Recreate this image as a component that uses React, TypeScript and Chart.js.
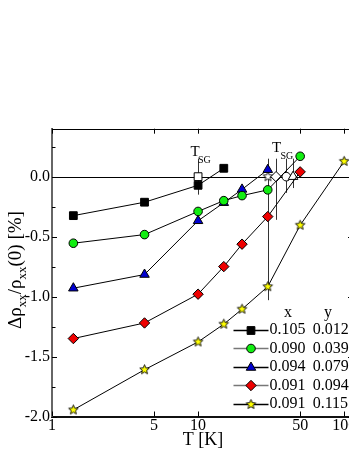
import React, { useEffect, useRef } from 'react';
import { Chart, registerables } from 'chart.js';

Chart.register(...registerables);

const SERIF = '"Liberation Serif", "DejaVu Serif", "Times New Roman", serif';

// ---- data ----
const T_A = [1.4, 4.3, 10, 15];
const RHO_A = [-0.325, -0.213, -0.072, 0.07];
const T_B = [1.4, 4.3, 10, 15, 20, 30, 50];
const RHO_B = [-0.555, -0.483, -0.29, -0.2, -0.158, -0.11, 0.17];
const T_C = [1.4, 4.3, 10, 15, 20, 30];
const RHO_C = [-0.93, -0.816, -0.368, -0.217, -0.106, 0.058];
const T_D = [1.4, 4.3, 10, 15, 20, 30, 50];
const RHO_D = [-1.35, -1.22, -0.98, -0.75, -0.563, -0.333, 0.04];
const T_E = [1.4, 4.3, 10, 15, 20, 30, 50, 100];
const RHO_E = [-1.945, -1.61, -1.378, -1.23, -1.105, -0.917, -0.405, 0.128];

// spin-glass temperatures (open symbols) with error bars
const TSG_T = [10, 30.1, 34.2, 40.2, 44.7];
const TSG_Y = [0, 0, 0, 0, 0];
const TSG_HIGH = [0.15, 0.15, 0.15, 0.15, 0.15];
const TSG_LOW = [-0.15, -1.03, -0.36, -0.135, -0.095];

// legend table
const LEG_X = ['0.105', '0.090', '0.094', '0.091', '0.091'];
const LEG_Y = ['0.012', '0.039', '0.079', '0.094', '0.115'];

// ticks
const X_TICKS = [1, 5, 10, 50, 100];
const Y_TICKS = [-2.0, -1.5, -1.0, -0.5, 0.0];
const Y_MINOR = [0.25, -0.25, -0.75, -1.25, -1.75];

const COLORS = ['#000000', '#11ee11', '#0000d0', '#ee0000', '#ffff00'];
const STYLES = ['rect', 'circle', 'triangle', 'rectRot', 'star'];
const RADII = [5.5, 4.3, 5.5, 5.2, 0];
const LEG_LINE = ['#000000', '#777777', '#000000', '#777777', '#000000'];

function makeStar(fill: string, r: number) {
  const c = document.createElement('canvas');
  const s = Math.ceil(r * 2 + 3);
  c.width = s;
  c.height = s;
  const ctx = c.getContext('2d')!;
  ctx.beginPath();
  for (let i = 0; i < 10; i++) {
    const ang = -Math.PI / 2 + (i * Math.PI) / 5;
    const rr = i % 2 === 0 ? r : r * 0.45;
    ctx.lineTo(s / 2 + rr * Math.cos(ang), s / 2 + rr * Math.sin(ang));
  }
  ctx.closePath();
  ctx.fillStyle = fill;
  ctx.fill();
  ctx.strokeStyle = '#000';
  ctx.lineWidth = 0.9;
  ctx.stroke();
  return c;
}

function drawMark(ctx: CanvasRenderingContext2D, kind: string, x: number, y: number, r: number, fill: string, star?: HTMLCanvasElement) {
  ctx.save();
  if (kind === 'star' && star) {
    ctx.drawImage(star, x - star.width / 2, y - star.height / 2);
    ctx.restore();
    return;
  }
  ctx.fillStyle = fill;
  ctx.strokeStyle = '#000';
  ctx.lineWidth = 1;
  ctx.beginPath();
  if (kind === 'rect') {
    const s = r * Math.SQRT1_2;
    ctx.rect(x - s, y - s, 2 * s, 2 * s);
  } else if (kind === 'circle') {
    ctx.arc(x, y, r, 0, Math.PI * 2);
  } else if (kind === 'triangle') {
    let a = 0;
    ctx.moveTo(x + Math.sin(a) * r, y - Math.cos(a) * r);
    a += (2 * Math.PI) / 3;
    ctx.lineTo(x + Math.sin(a) * r, y - Math.cos(a) * r);
    a += (2 * Math.PI) / 3;
    ctx.lineTo(x + Math.sin(a) * r, y - Math.cos(a) * r);
    ctx.closePath();
  } else if (kind === 'rectRot') {
    ctx.moveTo(x, y - r);
    ctx.lineTo(x + r, y);
    ctx.lineTo(x, y + r);
    ctx.lineTo(x - r, y);
    ctx.closePath();
  }
  ctx.fill();
  ctx.stroke();
  ctx.restore();
}

export default function App() {
  const ref = useRef<HTMLCanvasElement | null>(null);

  useEffect(() => {
    const canvas = ref.current;
    if (!canvas) return;
    const yellowStar = makeStar('#ffff00', 5);
    const whiteStar = makeStar('#ffffff', 5);

    const series = [
      { t: T_A, v: RHO_A },
      { t: T_B, v: RHO_B },
      { t: T_C, v: RHO_C },
      { t: T_D, v: RHO_D },
      { t: T_E, v: RHO_E },
    ];
    const drawOrder = [2, 1, 3, 4, 5];

    const datasets: any[] = series.map((s, i) => ({
      label: `x=${LEG_X[i]} y=${LEG_Y[i]}`,
      data: s.t.map((t, k) => ({ x: t, y: s.v[k] })),
      borderColor: '#000',
      borderWidth: 1,
      showLine: true,
      tension: 0,
      pointStyle: STYLES[i] === 'star' ? yellowStar : STYLES[i],
      pointRadius: STYLES[i] === 'star' ? 5 : RADII[i],
      pointBackgroundColor: COLORS[i],
      pointBorderColor: '#000',
      pointBorderWidth: 1,
      order: drawOrder[i],
    }));
    datasets.push({
      label: 'TSG',
      data: TSG_T.map((t, k) => ({ x: t, y: TSG_Y[k] })),
      showLine: false,
      pointStyle: ['rect', whiteStar, 'rectRot', 'circle', 'triangle'],
      pointRadius: [5.5, 5, 5.2, 4.3, 5.5],
      pointBackgroundColor: '#ffffff',
      pointBorderColor: '#000',
      pointBorderWidth: 1,
      order: 10,
    });

    const decor = {
      id: 'decor',
      beforeDatasetsDraw(chart: any) {
        const { ctx, chartArea: a, scales } = chart;
        const x = scales.x;
        const y = scales.y;
        ctx.save();
        ctx.strokeStyle = '#000';
        ctx.lineWidth = 1;
        const y0 = Math.round(y.getPixelForValue(0)) + 0.5;
        ctx.beginPath();
        ctx.moveTo(a.left, y0);
        ctx.lineTo(a.right, y0);
        ctx.stroke();
        ctx.strokeStyle = '#333';
        for (let i = 0; i < TSG_T.length; i++) {
          const px = Math.round(x.getPixelForValue(TSG_T[i])) + 0.5;
          ctx.beginPath();
          ctx.moveTo(px, y.getPixelForValue(TSG_HIGH[i]));
          ctx.lineTo(px, y.getPixelForValue(TSG_LOW[i]));
          ctx.stroke();
        }
        ctx.restore();
      },
      afterDraw(chart: any) {
        const { ctx, chartArea: a, scales } = chart;
        const x = scales.x;
        const y = scales.y;
        ctx.save();
        // top & right frame
        ctx.strokeStyle = '#000';
        ctx.lineWidth = 1;
        ctx.beginPath();
        ctx.moveTo(a.left, Math.round(a.top) + 0.5);
        ctx.lineTo(a.right, Math.round(a.top) + 0.5);
        ctx.moveTo(a.right, a.top);
        ctx.lineTo(a.right, a.bottom);
        ctx.stroke();
        // y ticks (inside, both sides)
        const tick = (v: number, len: number) => {
          const py = Math.round(y.getPixelForValue(v)) + 0.5;
          ctx.beginPath();
          ctx.moveTo(a.left, py);
          ctx.lineTo(a.left + len, py);
          ctx.moveTo(a.right, py);
          ctx.lineTo(a.right - len, py);
          ctx.stroke();
        };
        Y_TICKS.forEach((v) => tick(v, 5));
        Y_MINOR.forEach((v) => tick(v, 3.5));
        X_TICKS.forEach((v) => {
          const px = Math.round(x.getPixelForValue(v)) + 0.5;
          ctx.beginPath();
          ctx.moveTo(px, a.top);
          ctx.lineTo(px, a.top + 5);
          ctx.moveTo(px, a.bottom);
          ctx.lineTo(px, a.bottom - 5);
          ctx.stroke();
        });

        ctx.fillStyle = '#000';
        // x title
        ctx.font = `18px ${SERIF}`;
        ctx.textAlign = 'center';
        ctx.textBaseline = 'alphabetic';
        ctx.fillText('T [K]', 203, 444.5);

        // y title (rotated with subscripts)
        const main = `19px ${SERIF}`;
        const sub = `13px ${SERIF}`;
        const parts: [string, boolean][] = [
          ['\u0394\u03c1', false],
          ['xx', true],
          ['/\u03c1', false],
          ['xx', true],
          ['(0) [%]', false],
        ];
        let total = 0;
        parts.forEach(([s, isSub]) => {
          ctx.font = isSub ? sub : main;
          total += ctx.measureText(s).width;
        });
        ctx.save();
        ctx.translate(21, 270);
        ctx.rotate(-Math.PI / 2);
        ctx.textAlign = 'left';
        let cx = -total / 2;
        parts.forEach(([s, isSub]) => {
          ctx.font = isSub ? sub : main;
          ctx.fillText(s, cx, isSub ? 4.5 : 0);
          cx += ctx.measureText(s).width;
        });
        ctx.restore();

        // T_SG labels
        ctx.textAlign = 'left';
        ctx.font = `15px ${SERIF}`;
        ctx.fillText('T', 190.5, 156);
        ctx.font = `10px ${SERIF}`;
        ctx.fillText('SG', 198, 163);
        ctx.font = `15px ${SERIF}`;
        ctx.fillText('T', 272, 152);
        ctx.font = `10px ${SERIF}`;
        ctx.fillText('SG', 280.5, 158.5);

        // legend table
        ctx.font = `16px ${SERIF}`;
        ctx.textBaseline = 'middle';
        ctx.textAlign = 'center';
        ctx.fillText('x', 288, 312.5);
        ctx.fillText('y', 328, 312.5);
        ctx.textAlign = 'left';
        for (let i = 0; i < LEG_X.length; i++) {
          const ry = 329.5 + i * 18.5;
          ctx.strokeStyle = LEG_LINE[i];
          ctx.lineWidth = 1.3;
          ctx.beginPath();
          ctx.moveTo(233.5, Math.round(ry) + 0.5);
          ctx.lineTo(268.5, Math.round(ry) + 0.5);
          ctx.stroke();
          drawMark(ctx, STYLES[i], 251, Math.round(ry) + 0.5, RADII[i], COLORS[i], yellowStar);
          ctx.fillStyle = '#000';
          ctx.fillText(LEG_X[i], 269.5, ry + 0.5);
          ctx.fillText(LEG_Y[i], 312.7, ry + 0.5);
        }
        ctx.restore();
      },
    };

    const chart = new Chart(canvas, {
      type: 'line',
      data: { datasets },
      options: {
        animation: false,
        responsive: false,
        devicePixelRatio: 1,
        layout: { padding: { left: 0, top: 128.7, right: 9, bottom: 0 } },
        plugins: { legend: { display: false }, tooltip: { enabled: false } },
        events: [],
        scales: {
          x: {
            type: 'logarithmic',
            min: 1,
            max: 115,
            grid: { display: false, drawTicks: false },
            border: { display: true, color: '#111', width: 2 },
            afterBuildTicks: (s: any) => {
              s.ticks = X_TICKS.map((v) => ({ value: v }));
            },
            afterFit: (s: any) => {
              s.height = 451 - 416.5;
            },
            ticks: {
              autoSkip: false,
              maxRotation: 0,
              padding: 0,
              color: '#000',
              font: { family: SERIF, size: 16 },
              callback: (v: any) => String(v),
            },
          },
          y: {
            type: 'linear',
            min: -2.0,
            max: 0.4,
            grid: { display: false, drawTicks: false },
            border: { display: true, color: '#666', width: 2 },
            afterBuildTicks: (s: any) => {
              s.ticks = Y_TICKS.map((v) => ({ value: v }));
            },
            afterFit: (s: any) => {
              s.width = 52;
            },
            ticks: {
              padding: 2,
              color: '#000',
              font: { family: SERIF, size: 16 },
              callback: (v: any) => Number(v).toFixed(1),
            },
          },
        },
      },
      plugins: [decor],
    } as any);

    return () => chart.destroy();
  }, []);

  return (
    <div style={{ position: 'fixed', left: 0, top: 0, width: 349, height: 451, overflow: 'hidden', background: '#fff' }}>
      <canvas ref={ref} width={362} height={451} style={{ width: 362, height: 451, display: 'block' }} />
    </div>
  );
}
